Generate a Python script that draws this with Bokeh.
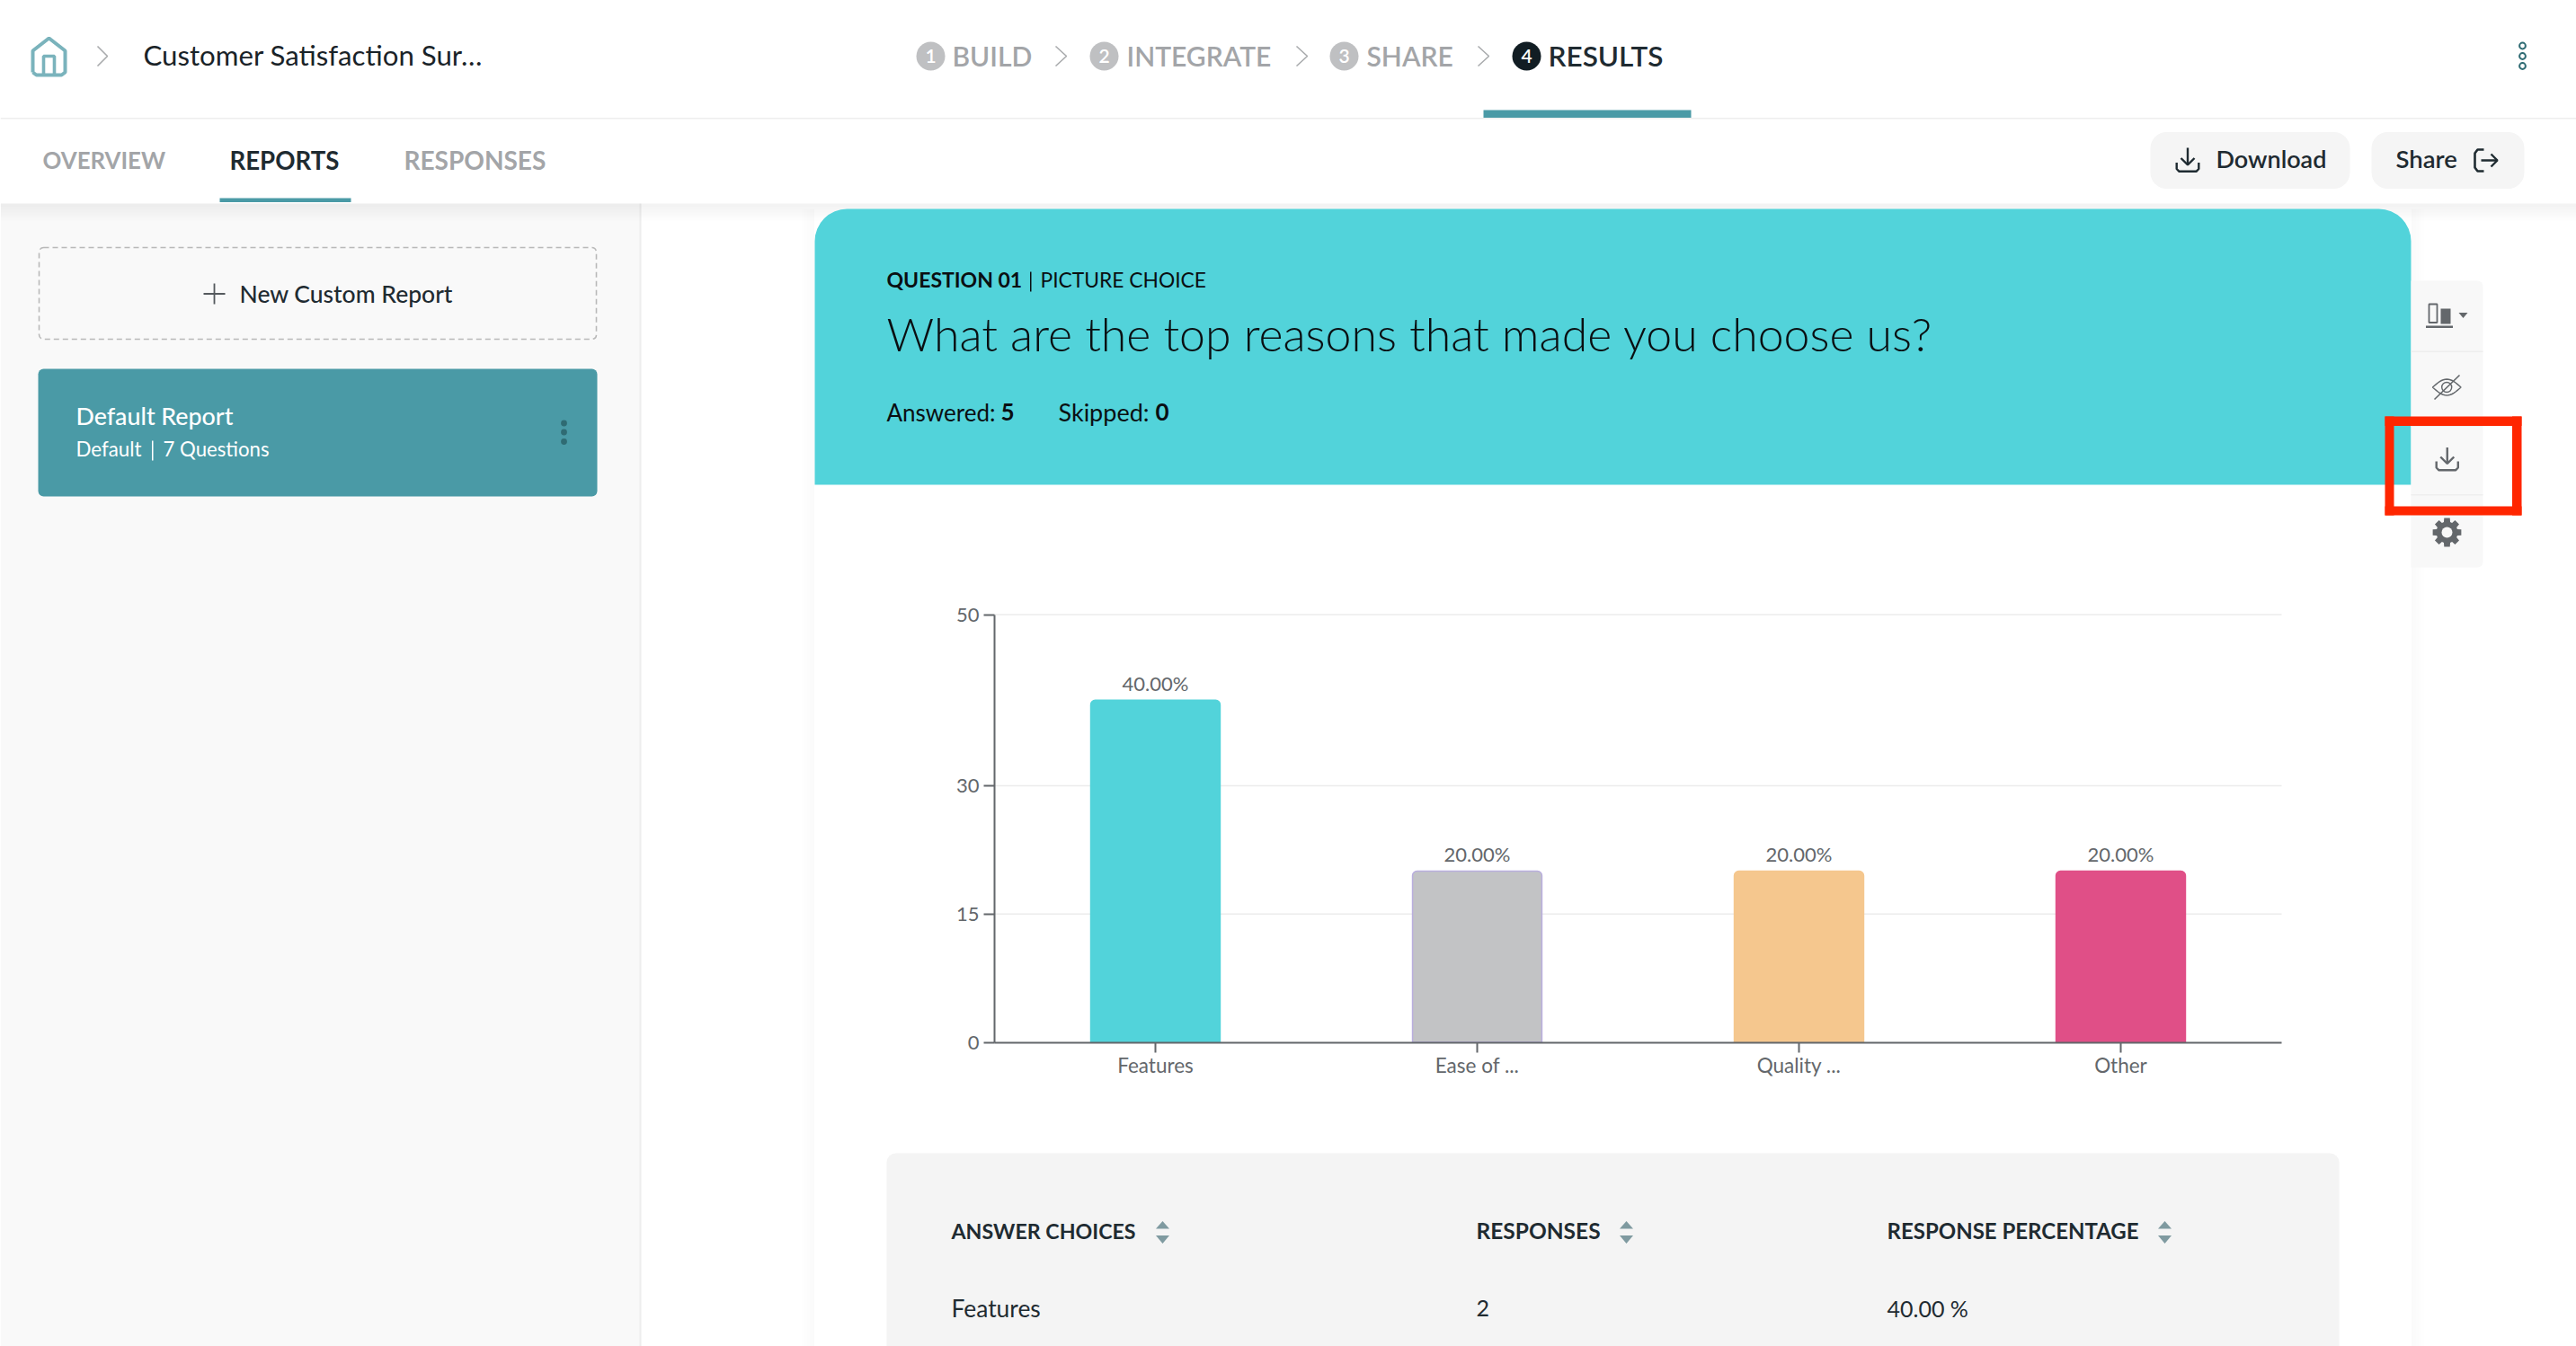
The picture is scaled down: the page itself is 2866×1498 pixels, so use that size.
from bokeh.core.properties import value
from bokeh.embed import file_html
from bokeh.resources import INLINE
from bokeh.models import (BoxAnnotation, ColumnDataSource, FixedTicker, Label, LinearAxis,
                          PolyAnnotation, Range1d)
from bokeh.plotting import figure
import math

# ---- chart data ----
categories = ["Features", "Ease of ...", "Quality ...", "Other"]
percentages = [40, 20, 20, 20]
percent_labels = ["40.00%", "20.00%", "20.00%", "20.00%"]
bar_colors = ["#52d3da", "#c2c3c5", "#f5c78e", "#e04f87"]
bar_edges = ["#52d3da", "#b9aede", "#f5c78e", "#e04f87"]
y_ticks = [0, 15, 30, 50]
responses = [2, 1, 1, 1]

W, H = 2866, 1498
# the page is the frame: default ranges count pixels, the chart has its own ranges
AXIS_X, AXIS_Y, TOP_Y = 1106, 1159.5, 683.5
STEP = 358
FIRST = AXIS_X + STEP / 2
PER_UNIT = (AXIS_Y - TOP_Y) / 50

BODY = "Lato"
LIGHT = "Lato Light"
DARK = "#1f2b31"
GREY = "#a3a5a8"
AXIS = "#63676b"
TEAL = "#4a9aa6"

p = figure(width=W, height=H, output_backend="svg", toolbar_location=None,
           x_range=Range1d(0, W), y_range=Range1d(H, 0), x_axis_type=None, y_axis_type=None,
           min_border=0, min_border_left=0, min_border_right=0, min_border_top=0, min_border_bottom=0,
           background_fill_color="white", border_fill_color="white", outline_line_color=None)
p.extra_x_ranges = {"cat": Range1d((0 - FIRST) / STEP, (W - FIRST) / STEP)}
p.extra_y_ranges = {"pct": Range1d((AXIS_Y - H) / PER_UNIT, AXIS_Y / PER_UNIT)}


def box(x0, y0, x1, y1, fill="#ffffff", alpha=1.0, line=None, lw=1, dash=None, radius=0):
    b = BoxAnnotation(left=x0, right=x1, top=y0, bottom=y1,
                      left_units="canvas", right_units="canvas", top_units="canvas", bottom_units="canvas",
                      fill_color=fill, fill_alpha=alpha, line_color=line, line_width=lw,
                      line_alpha=1 if line else 0, border_radius=radius, editable=False)
    if dash:
        b.line_dash = dash
    p.add_layout(b)
    return b


def poly(pts, fill=None, line=None, lw=1, alpha=1.0):
    a = PolyAnnotation(xs=[x for x, y in pts], ys=[y for x, y in pts],
                       xs_units="canvas", ys_units="canvas",
                       fill_color=fill or "#ffffff", fill_alpha=alpha if fill else 0,
                       line_color=line or "#ffffff", line_alpha=1 if line else 0, line_width=lw)
    p.add_layout(a)


def stroke(pts, color, lw=2):
    # an open line: the closed path runs out along the points and back
    poly(list(pts) + list(reversed(pts[1:-1])), line=color, lw=lw)


def text(x, y, s, size, color=DARK, font=BODY, style="normal", align="left"):
    p.add_layout(Label(x=x, y=y, x_units="canvas", y_units="canvas", text=s,
                       text_font=font, text_font_size=f"{size}px", text_font_style=style,
                       text_color=color, text_align=align, text_baseline="middle"))


def circle(cx, cy, r, fill=None, line=None, lw=1):
    box(cx - r, cy - r, cx + r, cy + r, fill=fill or "#ffffff", alpha=1 if fill else 0,
        line=line, lw=lw, radius=math.ceil(r))


def chevron(x0, x1, y0, y1, color="#a9abad"):
    stroke([(x0, y0), (x1, (y0 + y1) / 2), (x0, y1)], color, 1.6)


def download_icon(x0, x1, y0, y1, color, lw=2.4):
    xm = (x0 + x1) / 2
    stroke([(x0 + lw / 2, y1 - 11), (x0 + lw / 2, y1 - 4), (x0 + 4, y1 - lw / 2), (x1 - 4, y1 - lw / 2),
            (x1 - lw / 2, y1 - 4), (x1 - lw / 2, y1 - 11)], color, lw)
    stroke([(xm, y0), (xm, y1 - 9)], color, lw)
    stroke([(xm - 7.5, y1 - 16), (xm, y1 - 8.5), (xm + 7.5, y1 - 16)], color, lw)


# ---- page chrome ----
box(0, 226, 712, 1498, fill="#f9f9f9")
box(711, 226, 713, 1498, fill="#eeeeee")
for i in range(6):
    box(0, 226, 2866, 230 + 3 * i, fill="#000000", alpha=0.006)
for i in range(5):
    box(906 - 3 * (i + 1), 232, 906, 1498, fill="#000000", alpha=0.004)
    box(2682, 232, 2682 + 3 * (i + 1), 1498, fill="#000000", alpha=0.004)

box(0, 130.5, 2866, 132, fill="#eeeeee")

# header row
HOME = "#7ab3bc"
stroke([(36, 80), (36, 56), (54, 42), (72, 56), (72, 80), (68, 83), (40, 83), (36, 80)], HOME, 4)
stroke([(48, 83), (48, 62), (60, 62), (60, 83)], HOME, 3.6)
chevron(108, 119, 51, 73)
text(159, 60.5, "Customer Satisfaction Sur…", 31.2, color="#1a2328")

steps = [(1035, "1", 1059, "BUILD", 1173, 30), (1228, "2", 1253, "INTEGRATE", 1441, 30),
         (1495, "3", 1520, "SHARE", 1643, 30)]
for cx, n, tx, label, chev, size in steps:
    circle(cx, 62, 16, fill="#bfc0c2")
    text(cx, 62, n, 21, color="#ffffff", align="center", font="Lato Semibold")
    text(tx, 61, label, size, color=GREY, font="Lato Semibold")
    chevron(chev + 1, chev + 13, 51, 73)
circle(1698, 62, 16, fill="#111d23")
text(1698, 62, "4", 21, color="#ffffff", align="center", font="Lato Semibold")
text(1722, 61, "RESULTS", 31.5, color=DARK, font="Lato Semibold")
box(1650, 122, 1881, 130.5, fill=TEAL)

for yy in (50.5, 62, 73):
    circle(2806, yy, 3.4, line="#2f6b73", lw=2)

# tabs
text(47, 177.5, "OVERVIEW", 25.8, color=GREY, style="bold")
text(255, 177.5, "REPORTS", 27.6, color=DARK, style="bold")
text(449, 177.5, "RESPONSES", 28, color=GREY, style="bold")
box(244, 220, 390, 224.5, fill=TEAL)

# buttons
box(2392, 146.5, 2614, 209.5, fill="#f5f5f5", radius=18)
download_icon(2420, 2447, 164, 191.5, DARK)
text(2465, 176, "Download", 27, style="normal", font="Lato Semibold")
box(2638, 146.5, 2808, 209.5, fill="#f5f5f5", radius=18)
text(2665, 176, "Share", 27.5, style="normal", font="Lato Semibold")
stroke([(2763, 166), (2756, 166), (2753, 170), (2753, 186), (2756, 190), (2763, 190)], DARK, 2.6)
stroke([(2760, 178), (2778, 178)], DARK, 2.4)
stroke([(2771, 171), (2778, 178), (2771, 185)], DARK, 2.4)

# side panel
box(43, 275, 663, 377, fill="#f9f9f9", line="#b9b9b9", lw=1.6, dash=[6, 4], radius=5)
stroke([(226, 326.5), (250, 326.5)], "#555a5e", 1.8)
stroke([(238, 315), (238, 338)], "#555a5e", 1.8)
text(266, 326, "New Custom Report", 26.5, font="Lato Medium")
box(42, 410, 664, 552, fill=TEAL, radius=6)
text(84, 462.5, "Default Report", 26.8, color="#ffffff", font="Lato Medium")
text(84, 499, "Default", 22.3, color="#ffffff")
box(168.5, 490, 170, 512, fill="#ffffff")
text(181, 499, "7 Questions", 22.2, color="#ffffff")
for yy in (470.5, 480.5, 491):
    circle(627, yy, 3.4, fill="#2f6b73")

# question header
box(906, 232, 2682, 539, fill="#52d3da", radius=(36, 36, 0, 0))
text(986, 310, "QUESTION 01", 23, color="#0a0f12", style="bold")
box(1145.5, 302, 1147, 324, fill="#0a0f12")
text(1157, 310, "PICTURE CHOICE", 22.8, color="#0a0f12")
text(986, 370.5, "What are the top reasons that made you choose us?", 51.8, color="#0a0f12", font=LIGHT)
text(986, 458, "Answered:", 26, color="#0a0f12")
text(1113, 458, "5", 26, color="#0a0f12", style="bold")
text(1177, 458, "Skipped:", 27, color="#0a0f12")
text(1285, 458, "0", 26, color="#0a0f12", style="bold")

# tool strip
box(2682, 312, 2762, 631, fill="#f8f8f8", radius=(0, 6, 6, 0))
box(2682, 390, 2762, 391.5, fill="#eeeeee")
box(2682, 473, 2762, 474.5, fill="#eeeeee")
box(2682, 549.5, 2762, 551, fill="#eeeeee")
ICON = "#63676b"
box(2702, 338, 2711, 358.5, fill="#f8f8f8", line=ICON, lw=1.8)
box(2715, 343, 2726, 360, fill=ICON)
box(2698.5, 362, 2728.5, 364.5, fill=ICON)
poly([(2735, 347.5), (2745, 347.5), (2740, 353.5)], fill=ICON)
# eye
eye_top = [(2706 + i * 31.5 / 16, 430.5 - 9 * math.sin(math.pi * i / 16)) for i in range(17)]
eye_bot = [(2706 + i * 31.5 / 16, 430.5 + 9 * math.sin(math.pi * i / 16)) for i in range(16, 0, -1)]
poly(eye_top + eye_bot, line=ICON, lw=1.5)
circle(2721.7, 430.5, 5.5, line=ICON, lw=1.4)
stroke([(2708, 444), (2736, 417)], ICON, 1.6)
download_icon(2709, 2735.5, 497.5, 524, ICON)
# gear
gear = []
for k in range(8):
    a = k * math.pi / 4
    for da, rr in ((-0.30, 12.0), (-0.20, 16.2), (0.20, 16.2), (0.30, 12.0)):
        gear.append((2722 + rr * math.cos(a + da), 592 + rr * math.sin(a + da)))
poly(gear, fill=ICON)
circle(2722, 592, 6, fill="#f8f8f8")

# red marker
RED = "#ff2600"
box(2653, 463, 2805, 473.5, fill=RED)
box(2653, 563, 2805, 573, fill=RED)
box(2653, 463, 2663, 573, fill=RED)
box(2794.5, 463, 2805, 573, fill=RED)

# table panel
box(986, 1283, 2602, 1498, fill="#f4f4f4", radius=(10, 10, 0, 0))
columns = [("ANSWER CHOICES", 1058, 1293, 23.2), ("RESPONSES", 1642, 1809, 24.5),
           ("RESPONSE PERCENTAGE", 2099, 2408, 24)]
for name, x, ax, size in columns:
    text(x, 1369, name, size, color=DARK, style="bold")
    poly([(ax - 7.5, 1367), (ax + 7.5, 1367), (ax, 1358.5)], fill="#7f9aa0")
    poly([(ax - 7.5, 1374.5), (ax + 7.5, 1374.5), (ax, 1383.5)], fill="#7f9aa0")
text(1058, 1455, categories[0], 26.4, color=DARK)
text(1642, 1455, str(responses[0]), 25, color=DARK)
text(2099, 1455, f"{percentages[0]:.2f} %", 25, color=DARK)

# ---- the chart ----
positions = list(range(len(categories)))
source = ColumnDataSource(dict(pos=positions, val=percentages, lab=percent_labels,
                               color=bar_colors, edge=bar_edges))
grid_ticks = [t for t in y_ticks if t > 0]
p.segment(x0=-0.5, x1=len(categories) - 0.5, y0=grid_ticks, y1=grid_ticks, x_range_name="cat", y_range_name="pct",
          line_color="#ececec", line_width=1.5)
p.vbar(x="pos", top="val", bottom=0, width=0.402, source=source, fill_color="color",
       line_color="edge", line_width=1.5, border_radius=(5, 5, 0, 0), x_range_name="cat", y_range_name="pct")
p.text(x="pos", y="val", text="lab", source=source, text_align="center", text_baseline="bottom",
       y_offset=-5.5, text_font=value(BODY), text_font_size="22px", text_color=AXIS,
       x_range_name="cat", y_range_name="pct")

ya = LinearAxis(y_range_name="pct", fixed_location=AXIS_X, bounds=(0, 50),
                ticker=FixedTicker(ticks=y_ticks))
ya.axis_line_color = AXIS
ya.axis_line_width = 2
ya.major_tick_line_color = AXIS
ya.major_tick_line_width = 2
ya.major_tick_in = 0
ya.major_tick_out = 12
ya.minor_tick_line_color = None
ya.major_label_standoff = 5
ya.major_label_text_font = BODY
ya.major_label_text_font_size = "22px"
ya.major_label_text_color = AXIS
p.add_layout(ya, "left")

xa = LinearAxis(x_range_name="cat", fixed_location=AXIS_Y, bounds=(-0.5, len(categories) - 0.5),
                ticker=FixedTicker(ticks=positions),
                major_label_overrides=dict(zip(positions, categories)))
xa.axis_line_color = AXIS
xa.axis_line_width = 2
xa.major_tick_line_color = AXIS
xa.major_tick_line_width = 2
xa.major_tick_in = 0
xa.major_tick_out = 11
xa.minor_tick_line_color = None
xa.major_label_standoff = 1
xa.major_label_text_font = BODY
xa.major_label_text_font_size = "22.5px"
xa.major_label_text_color = AXIS
p.add_layout(xa, "below")

open("out.html", "w").write(file_html(p, INLINE))
